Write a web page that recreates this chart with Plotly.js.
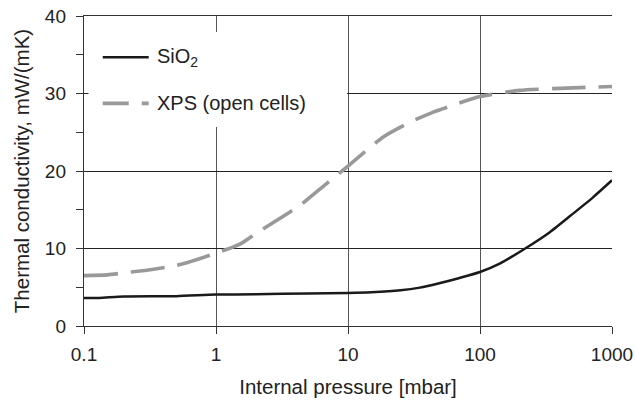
<!DOCTYPE html>
<html>
<head>
<meta charset="utf-8">
<script src="https://cdn.plot.ly/plotly-3.0.1.min.js"></script>
<style>
  html, body { margin: 0; padding: 0; background: #fff; }
  #chart { width: 635px; height: 401px; }
</style>
</head>
<body>
<div id="chart"></div>
<script>
// ---- Data ----
const sio2Pressure = [0.1, 0.13, 0.2, 0.5, 1, 2, 5, 10, 15, 25, 35, 50, 70, 100, 141, 220, 338, 507, 718, 1000];
const sio2Conductivity = [3.6, 3.62, 3.8, 3.85, 4.05, 4.1, 4.2, 4.26, 4.35, 4.6, 4.95, 5.55, 6.2, 6.97, 8.05, 10.0, 12.1, 14.5, 16.6, 18.8];

const xpsPressure = [0.1, 0.15, 0.21, 0.3, 0.465, 0.61, 1, 1.53, 1.95, 3.06, 4.35, 5.3, 7.77, 10.1, 18.5, 29.5, 44.3, 62.7, 100, 200, 452, 1000];
const xpsConductivity = [6.5, 6.6, 6.9, 7.2, 7.7, 8.2, 9.4, 10.6, 11.8, 13.9, 15.6, 16.8, 19.1, 20.7, 24.4, 26.3, 27.6, 28.5, 29.6, 30.4, 30.7, 30.9];

const seriesNames = ["SiO<sub>2</sub>", "XPS (open cells)"];
const xTickValues = [0.1, 1, 10, 100, 1000];
const xTickLabels = ["0.1", "1", "10", "100", "1000"];
const xTitle = "Internal pressure [mbar]";
const yTitle = "Thermal conductivity, mW/(mK)";

// ---- Styling ----
const FONT = "Liberation Sans, Arial, Helvetica, sans-serif";
const TXT = "#222";
const sio2Line = { color: "#1a1a1a", width: 2.5 };
const xpsLine = { color: "#999999", width: 3.6, dash: "34px,13px" };

const traces = [
  { x: sio2Pressure, y: sio2Conductivity, mode: "lines", name: seriesNames[0],
    line: Object.assign({ shape: "spline", smoothing: 0.6 }, sio2Line), hoverinfo: "skip" },
  { x: xpsPressure, y: xpsConductivity, mode: "lines", name: seriesNames[1],
    line: Object.assign({ shape: "spline", smoothing: 0.6 }, xpsLine), hoverinfo: "skip" }
];

// manual legend (paper coordinates)
const legX0 = 0.0355, legX1 = 0.1225, legTextX = 0.135;
const legY = [0.8666, 0.718];

const layout = {
  width: 635, height: 401,
  margin: { l: 84, r: 23, t: 16, b: 75, pad: 0 },
  paper_bgcolor: "#fff", plot_bgcolor: "#fff",
  showlegend: false,
  font: { family: FONT, color: TXT, size: 19 },
  xaxis: {
    type: "log", range: [-1, 3],
    tickvals: xTickValues, ticktext: xTickLabels,
    ticks: "outside", ticklen: 7, tickwidth: 1, tickcolor: "#333",
    ticklabelstandoff: 4,
    showline: true, linecolor: "#333", linewidth: 1, mirror: true,
    showgrid: true, gridcolor: "#555", gridwidth: 1,
    zeroline: false,
    tickfont: { family: FONT, size: 19, color: TXT },
    title: { text: xTitle, font: { family: FONT, size: 20.5, color: TXT }, standoff: 15 },
    automargin: false
  },
  yaxis: {
    range: [0, 40], dtick: 10, tick0: 0,
    ticks: "outside", ticklen: 7, tickwidth: 1, tickcolor: "#333",
    ticklabelstandoff: 6,
    minor: { dtick: 5, ticks: "outside", ticklen: 7, tickcolor: "#333", showgrid: false },
    showline: true, linecolor: "#333", linewidth: 1.2, mirror: false,
    showgrid: true, gridcolor: "#222", gridwidth: 1,
    zeroline: false,
    tickfont: { family: FONT, size: 19, color: TXT },
    title: { text: yTitle, font: { family: FONT, size: 20.5, color: TXT }, standoff: 9 },
    automargin: false
  },
  shapes: [
    { type: "rect", xref: "paper", yref: "paper", x0: 0.0085, x1: 0.498, y0: 0.6416, y1: 0.948,
      fillcolor: "#fff", line: { width: 0 }, layer: "above" },
    { type: "line", xref: "paper", yref: "paper", x0: legX0, x1: legX1, y0: legY[0], y1: legY[0],
      line: sio2Line, layer: "above" },
    { type: "line", xref: "paper", yref: "paper", x0: legX0, x1: legX1, y0: legY[1], y1: legY[1],
      line: { color: xpsLine.color, width: xpsLine.width, dash: "26px,13px" }, layer: "above" }
  ],
  annotations: [
    { xref: "paper", yref: "paper", x: legTextX, y: legY[0], xanchor: "left", yanchor: "middle",
      text: seriesNames[0], showarrow: false, font: { family: FONT, size: 20, color: TXT } },
    { xref: "paper", yref: "paper", x: legTextX, y: legY[1], xanchor: "left", yanchor: "middle",
      text: seriesNames[1], showarrow: false, font: { family: FONT, size: 20, color: TXT } }
  ]
};

Plotly.newPlot("chart", traces, layout, { staticPlot: true, displayModeBar: false });
</script>
</body>
</html>
